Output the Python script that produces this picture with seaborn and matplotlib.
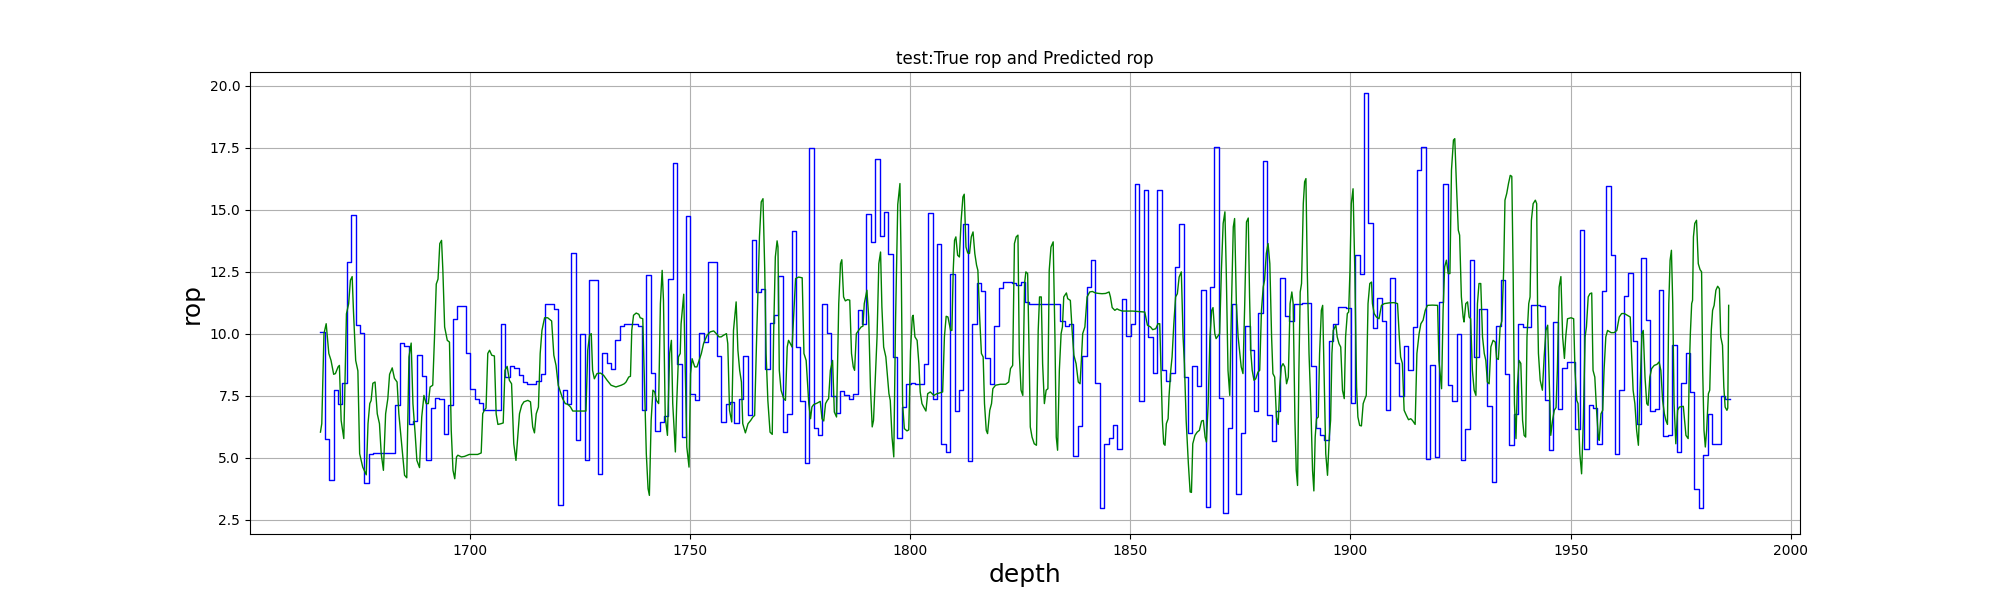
import numpy as np
import matplotlib
matplotlib.use('Agg')
import matplotlib.pyplot as plt
import seaborn as sns

# true rop: one value per metre, starting at this depth
true_start = 1666.1
true_rop = [
    10.07, 5.77, 4.09, 7.74, 7.18, 8.0, 12.89, 14.77, 10.36, 10.03,
    3.98, 5.16, 5.19, 5.19, 5.19, 5.19, 5.19, 7.11, 9.62, 9.52,
    6.37, 6.47, 9.13, 8.31, 4.89, 7.02, 7.42, 7.37, 5.94, 7.11,
    10.6, 11.13, 11.13, 9.22, 7.78, 7.38, 7.22, 6.91, 6.91, 6.91,
    6.91, 10.38, 8.25, 8.68, 8.63, 8.32, 8.05, 7.98, 7.98, 8.08,
    8.36, 11.2, 11.2, 11.0, 3.1, 7.74, 7.15, 13.27, 5.7, 9.97,
    4.89, 12.15, 12.15, 4.35, 9.22, 8.83, 8.59, 9.76, 10.3, 10.38,
    10.38, 10.38, 10.32, 6.91, 12.35, 8.41, 6.08, 6.44, 6.67, 12.2,
    16.88, 8.79, 5.85, 14.74, 7.58, 7.34, 10.03, 9.67, 12.89, 12.89,
    9.08, 6.44, 7.18, 7.24, 6.4, 7.38, 9.08, 6.73, 13.76, 11.67,
    11.81, 8.56, 10.44, 10.74, 12.31, 6.03, 6.77, 14.14, 9.47, 7.27,
    4.78, 17.49, 6.21, 5.93, 11.18, 10.03, 7.47, 6.81, 7.67, 7.51,
    7.38, 7.58, 10.97, 10.4, 14.84, 13.7, 17.02, 13.94, 14.9, 13.23,
    9.06, 5.79, 7.04, 7.98, 8.01, 7.96, 7.96, 8.79, 14.88, 7.38,
    13.63, 5.54, 5.23, 12.42, 6.88, 7.74, 14.41, 4.87, 10.4, 12.04,
    11.72, 9.03, 7.96, 10.3, 11.85, 12.1, 12.1, 12.04, 11.95, 12.08,
    11.28, 11.21, 11.21, 11.21, 11.21, 11.21, 11.21, 11.21, 10.51, 10.3,
    10.38, 5.05, 6.26, 9.1, 11.88, 12.98, 8.01, 2.97, 5.54, 5.79,
    6.3, 5.35, 11.41, 9.91, 10.38, 16.05, 7.27, 15.78, 9.87, 8.41,
    15.78, 8.55, 8.08, 8.41, 12.69, 14.41, 8.25, 6.0, 8.7, 7.88,
    11.77, 3.01, 11.88, 17.53, 7.4, 2.77, 6.21, 11.18, 3.55, 6.0,
    10.3, 9.35, 6.88, 10.83, 16.96, 6.71, 5.67, 6.88, 12.24, 10.7,
    10.51, 11.21, 11.21, 11.24, 11.24, 8.7, 6.21, 5.93, 5.73, 9.7,
    10.38, 11.08, 11.08, 11.04, 7.2, 13.16, 12.39, 19.7, 14.46, 10.24,
    11.45, 10.5, 6.94, 12.24, 8.82, 7.47, 9.49, 8.52, 10.27, 16.59,
    17.53, 4.96, 8.74, 5.03, 11.28, 16.02, 7.92, 7.27, 10.0, 4.92,
    6.17, 12.96, 9.06, 10.99, 10.99, 7.07, 4.02, 10.31, 12.18, 8.36,
    5.5, 6.75, 10.38, 10.27, 10.27, 11.17, 11.17, 11.13, 7.34, 5.32,
    10.47, 6.98, 8.62, 8.86, 8.86, 6.17, 14.17, 5.36, 7.11, 7.02,
    5.56, 11.72, 15.97, 13.19, 5.13, 7.74, 11.51, 12.46, 9.69, 6.37,
    13.06, 10.56, 6.88, 6.98, 11.77, 5.86, 5.9, 9.56, 5.23, 8.01,
    9.2, 7.65, 3.73, 2.98, 5.12, 6.77, 5.56, 5.56, 7.49, 7.38,
]

# predicted rop
pred_depth = [
    1666.1, 1666.4, 1666.9, 1667.4, 1668.0, 1668.5, 1669.1, 1669.5, 1670.1, 1670.4,
    1670.8, 1671.4, 1672.0, 1672.5, 1672.9, 1673.3, 1673.6, 1674.1, 1674.6, 1675.0,
    1675.7, 1676.5, 1676.9, 1677.3, 1677.6, 1678.0, 1678.5, 1679.0, 1679.5, 1679.9,
    1680.4, 1680.9, 1681.4, 1681.8, 1682.4, 1682.9, 1683.5, 1683.9, 1684.4, 1685.2,
    1685.7, 1686.2, 1686.7, 1687.1, 1687.6, 1688.0, 1688.6, 1689.1, 1689.6, 1690.1,
    1690.6, 1691.0, 1691.6, 1692.0, 1692.4, 1692.8, 1693.2, 1693.6, 1693.9, 1694.3,
    1694.9, 1695.4, 1695.8, 1696.2, 1696.6, 1697.0, 1697.3, 1698.1, 1698.8, 1699.9,
    1700.3, 1701.8, 1702.6, 1702.95, 1703.3, 1703.7, 1704.1, 1704.5, 1705.0, 1705.6,
    1706.0, 1706.4, 1707.1, 1707.6, 1708.0, 1708.5, 1709.0, 1709.5, 1710.0, 1710.5,
    1710.9, 1711.3, 1711.8, 1712.3, 1713.2, 1713.8, 1714.3, 1714.7, 1715.1, 1715.6,
    1716.0, 1716.4, 1717.0, 1717.7, 1718.6, 1719.1, 1719.6, 1720.1, 1720.6, 1721.1,
    1721.7, 1722.3, 1722.9, 1723.4, 1724.1, 1725.3, 1726.4, 1726.8, 1727.2, 1727.6,
    1727.9, 1728.3, 1728.9, 1729.7, 1730.4, 1731.2, 1732.1, 1733.2, 1734.4, 1735.1,
    1735.5, 1736.1, 1736.5, 1736.8, 1737.2, 1737.8, 1738.4, 1738.7, 1739.3, 1739.7,
    1740.1, 1740.5, 1740.8, 1741.2, 1741.6, 1742.0, 1742.4, 1742.9, 1743.3, 1743.7,
    1744.0, 1744.4, 1744.9, 1745.4, 1745.8, 1746.1, 1746.7, 1747.0, 1747.4, 1747.8,
    1748.0, 1748.6, 1748.9, 1749.3, 1749.8, 1750.15, 1750.5, 1751.1, 1751.6, 1752.0,
    1752.6, 1753.1, 1753.9, 1754.6, 1755.4, 1756.0, 1756.6, 1757.1, 1757.6, 1758.3,
    1758.6, 1759.0, 1759.5, 1759.9, 1760.5, 1760.9, 1761.3, 1761.7, 1762.0, 1762.6,
    1763.2, 1763.8, 1764.3, 1764.7, 1765.1, 1765.4, 1765.8, 1766.2, 1766.6, 1767.0,
    1767.3, 1767.7, 1768.2, 1768.7, 1769.0, 1769.4, 1769.8, 1770.0, 1770.3, 1770.7,
    1771.3, 1771.7, 1772.1, 1772.4, 1772.8, 1773.2, 1774.0, 1774.7, 1775.5, 1775.9,
    1776.4, 1777.0, 1777.4, 1777.7, 1778.1, 1778.9, 1779.6, 1780.0, 1780.4, 1780.8,
    1781.2, 1781.5, 1781.9, 1782.4, 1782.8, 1783.3, 1783.8, 1784.2, 1784.5, 1784.9,
    1785.3, 1785.8, 1786.3, 1786.7, 1787.1, 1787.4, 1787.8, 1788.3, 1788.9, 1789.3,
    1789.6, 1790.2, 1790.6, 1791.0, 1791.4, 1791.7, 1792.5, 1792.9, 1793.3, 1793.6,
    1794.0, 1794.5, 1795.2, 1795.5, 1795.9, 1796.3, 1796.7, 1797.2, 1797.7, 1798.0,
    1798.3, 1798.7, 1799.3, 1799.7, 1800.1, 1800.5, 1800.7, 1801.1, 1801.6, 1802.0,
    1802.3, 1802.7, 1803.1, 1803.6, 1804.0, 1804.6, 1805.4,
    1806.1, 1806.9, 1807.4, 1807.8, 1808.2, 1808.6, 1809.2, 1809.5, 1809.8, 1810.1,
    1810.4, 1810.8, 1811.2, 1811.6, 1812.0, 1812.3, 1812.7, 1813.1, 1813.5, 1813.9,
    1814.3, 1814.7, 1815.1, 1815.4, 1815.8, 1816.2, 1816.6, 1816.9, 1817.3, 1817.6,
    1818.1, 1818.5, 1818.8, 1819.4, 1820.5, 1821.7, 1822.4, 1822.8, 1823.3, 1823.7,
    1824.1, 1824.5, 1824.8, 1825.2, 1825.6, 1826.0, 1826.3, 1826.7, 1827.1, 1827.3,
    1827.7, 1828.2, 1828.7, 1829.1, 1829.4, 1829.8, 1830.1, 1830.5, 1830.9, 1831.3,
    1831.6, 1832.0, 1832.5, 1832.9, 1833.2, 1833.5, 1833.9, 1834.3,
    1834.6, 1834.9, 1835.5, 1835.8, 1836.4, 1836.8, 1837.2, 1837.7, 1838.2, 1838.6,
    1838.9, 1839.2, 1839.7, 1840.2, 1840.8, 1841.4, 1842.1, 1842.9, 1843.6, 1844.4,
    1845.2, 1845.5, 1845.9, 1846.5, 1847.0, 1847.4, 1848.2, 1849.3, 1850.5, 1852.0,
    1853.3, 1853.9, 1854.6, 1855.1, 1855.8, 1856.3, 1856.7, 1857.0, 1857.3, 1857.6,
    1857.9, 1858.2, 1858.6, 1858.8, 1859.2, 1859.5, 1859.9, 1860.3, 1860.7, 1861.1,
    1861.6, 1862.0, 1862.3, 1862.7, 1863.2, 1863.6, 1863.9, 1864.2, 1864.7, 1865.2,
    1865.7, 1866.2, 1866.6, 1867.0, 1867.3, 1867.7, 1868.1, 1868.5, 1868.8, 1869.2,
    1869.5,
    1870.3, 1870.7, 1871.1, 1871.5, 1871.8, 1872.2, 1872.6, 1873.0, 1873.4, 1873.7,
    1874.1, 1874.5, 1874.9, 1875.2, 1875.6, 1876.0, 1876.4, 1876.8, 1877.1, 1877.4,
    1877.7, 1878.1, 1878.5, 1879.0, 1879.4, 1879.8, 1880.2, 1880.5, 1880.9, 1881.3,
    1881.7, 1882.1, 1882.4, 1882.8, 1883.2, 1883.6, 1883.95, 1884.3, 1884.7, 1885.1,
    1885.5, 1885.9, 1886.3, 1886.7, 1887.0, 1887.4, 1887.7, 1888.0, 1888.3, 1888.6,
    1888.9, 1889.3, 1889.6, 1889.9, 1890.2, 1890.6, 1891.0, 1891.4, 1891.7, 1892.0,
    1892.3, 1892.7, 1893.0, 1893.4, 1893.7, 1894.0, 1894.4, 1894.8, 1895.2, 1895.5,
    1895.8, 1896.1, 1896.7, 1897.0, 1897.4, 1897.8, 1898.2, 1898.6, 1898.9, 1899.3,
    1899.6, 1899.9, 1900.2, 1900.6, 1901.0, 1901.4, 1901.7, 1902.1, 1902.5, 1902.9,
    1903.3, 1903.6, 1904.0, 1904.4, 1904.8,
    1905.0, 1905.4, 1905.9, 1906.5, 1907.05, 1907.7, 1908.8, 1909.9, 1910.7, 1911.1,
    1911.4, 1911.8, 1912.2, 1912.7, 1913.2, 1913.7, 1914.1, 1914.7, 1915.1, 1915.6,
    1916.0, 1916.5, 1917.0, 1917.5, 1918.6, 1919.8, 1920.1, 1920.7, 1921.05, 1921.4,
    1921.8, 1922.2, 1922.6, 1922.95, 1923.4, 1923.7, 1924.1, 1924.5, 1924.8, 1925.2,
    1925.6, 1925.8, 1926.2, 1926.6, 1926.96, 1927.3, 1927.7, 1928.1, 1928.5, 1928.85,
    1929.2, 1929.6, 1930.0, 1930.4, 1930.75, 1931.1, 1931.5, 1931.9, 1932.4, 1932.9,
    1933.2, 1933.6, 1934.0, 1934.4, 1934.8, 1935.1, 1935.5, 1935.9, 1936.3, 1936.65,
    1936.95, 1937.25, 1937.6, 1937.9, 1938.3, 1938.7, 1939.1, 1939.45, 1939.8, 1940.1,
    1940.5, 1940.8, 1941.1, 1941.5, 1942.0, 1942.3, 1942.5, 1942.7, 1943.1, 1943.6,
    1944.0, 1944.4, 1944.8, 1945.2, 1945.5, 1945.9, 1946.3, 1946.7, 1947.0, 1947.4,
    1947.8, 1948.2, 1948.6, 1948.9, 1949.3, 1950.1, 1950.7, 1951.0, 1951.4, 1951.7,
    1952.1, 1952.5, 1952.9, 1953.3, 1953.6, 1954.0, 1954.4, 1954.8, 1955.1, 1955.5,
    1955.9, 1956.3, 1956.5, 1956.9, 1957.3, 1957.6, 1958.0, 1958.4, 1959.2, 1959.9,
    1960.5, 1961.05, 1961.6, 1962.2, 1962.9, 1963.55, 1963.85, 1964.2, 1964.6, 1965.0,
    1965.4, 1965.8, 1966.2, 1966.5, 1966.9, 1967.3, 1967.6, 1968.0, 1968.4, 1969.0,
    1969.6, 1970.1, 1970.5, 1970.9, 1971.3, 1971.65, 1972.0, 1972.3, 1972.6, 1972.9,
    1973.2, 1973.5, 1973.9, 1974.3, 1974.7, 1975.4,
    1975.6, 1975.9, 1976.2, 1976.7, 1976.95, 1977.2, 1977.5, 1977.7, 1977.9, 1978.2,
    1978.6, 1979.0, 1979.4, 1979.75, 1980.0, 1980.3, 1980.6, 1980.9, 1981.3, 1981.6,
    1981.95, 1982.25, 1982.6, 1983.0, 1983.4, 1983.8, 1984.1, 1984.5, 1984.8, 1985.1,
    1985.5, 1985.7, 1985.9,
]
pred_rop = [
    6.03, 6.37, 10.0, 10.4, 9.2, 8.92, 8.36, 8.39, 8.66, 8.72,
    6.5, 5.77, 10.8, 11.2, 12.15, 12.3, 10.9, 8.92, 8.5, 5.16,
    4.62, 4.31, 6.37, 7.18, 7.3, 8.0, 8.05, 6.77, 6.37, 5.16,
    4.49, 6.77, 7.38, 8.36, 8.62, 8.2, 8.05, 6.77, 5.83, 4.29,
    4.19, 9.06, 9.62, 7.18, 5.97, 4.89, 4.6, 6.64, 7.51, 7.18,
    7.18, 7.85, 7.92, 9.86, 12.0, 12.2, 13.63, 13.76, 12.55, 10.27,
    9.73, 9.66, 6.1, 4.49, 4.15, 5.03, 5.1, 5.03, 5.05, 5.13,
    5.13, 5.13, 5.19, 6.77, 6.91, 7.0, 9.2, 9.33, 9.13, 9.1,
    6.77, 6.34, 6.37, 6.4, 8.52, 8.68, 8.12, 7.98, 5.56, 4.89,
    5.83, 6.77, 7.11, 7.25, 7.31, 7.25, 6.24, 6.0, 6.77, 7.04,
    9.2, 10.13, 10.64, 10.64, 10.51, 9.13, 8.72, 7.92, 7.65, 7.38,
    7.18, 7.15, 7.04, 6.88, 6.88, 6.88, 6.88, 9.33, 9.93, 10.0,
    8.52, 8.18, 8.39, 8.41, 8.32, 8.12, 7.92, 7.85, 7.92, 7.98,
    8.05, 8.25, 8.28, 10.13, 10.74, 10.83, 10.78, 10.64, 10.6, 7.85,
    5.16, 3.75, 3.48, 6.5, 7.72, 7.65, 7.31, 7.18, 11.21, 12.55,
    11.34, 6.64, 5.9, 9.2, 9.73, 7.18, 5.23, 7.18, 9.06, 9.2,
    10.4, 11.59, 8.92, 5.43, 4.62, 8.38, 8.99, 8.66, 8.66, 8.87,
    9.2, 9.6, 9.93, 10.07, 10.11, 10.0, 9.87, 9.87, 9.93, 10.0,
    9.6, 6.91, 6.44, 10.13, 11.28, 9.33, 8.52, 8.05, 6.37, 6.0,
    6.37, 6.5, 6.64, 6.7, 9.46, 11.34, 13.9, 15.31, 15.44, 12.55,
    9.2, 7.31, 6.03, 5.94, 9.87, 13.09, 13.74, 13.5, 8.52, 7.72,
    7.38, 7.31, 9.46, 9.73, 9.6, 9.46, 12.22, 12.28, 12.25, 9.2,
    8.92, 7.18, 6.57, 7.04, 7.14, 7.2, 7.27, 6.57, 6.48, 7.18,
    7.31, 7.38, 8.52, 8.92, 6.84, 6.64, 11.21, 12.82, 12.98, 11.48,
    11.32, 11.37, 11.35, 9.2, 8.66, 8.52, 10.0, 10.13, 10.27, 10.3,
    11.21, 11.75, 10.67, 7.85, 6.24, 6.5, 9.87, 12.82, 13.29, 11.08,
    9.46, 9.06, 7.58, 7.31, 5.83, 5.03, 10.5, 15.2, 16.05, 12.55,
    7.18, 6.17, 6.08, 6.12, 9.3, 10.67, 10.74, 9.87, 9.73, 8.79,
    7.65, 7.18, 7.04, 6.88, 7.58, 7.65, 7.51,
    7.58, 7.62, 7.65, 9.87, 10.7, 10.67, 10.13, 10.13, 12.55, 13.76,
    13.9, 13.16, 13.09, 14.57, 15.51, 15.62, 13.49, 13.25, 13.23, 13.9,
    14.1, 13.23, 12.76, 12.55, 10.67, 9.2, 9.06, 7.18, 6.1, 5.97,
    6.91, 7.18, 7.78, 7.92, 7.96, 7.96, 8.05, 8.59, 8.72, 13.63,
    13.9, 13.97, 9.2, 7.72, 7.51, 12.02, 12.49, 12.42, 8.52, 6.24,
    5.83, 5.56, 5.5, 10.13, 11.48, 11.48, 8.79, 7.18, 7.72, 7.78,
    12.55, 13.49, 13.7, 9.87, 5.83, 5.3, 8.52, 10.0,
    10.27, 11.48, 11.64, 11.41, 11.34, 10.13, 9.13, 8.79, 8.05, 7.98,
    8.92, 10.0, 10.27, 11.48, 11.68, 11.7, 11.64, 11.62, 11.61, 11.62,
    11.68, 11.48, 11.05, 10.94, 11.0, 10.96, 10.91, 10.91, 10.91, 10.89,
    10.87, 10.34, 10.27, 10.16, 10.2, 10.4, 10.4, 8.52, 6.5, 5.56,
    5.5, 6.37, 6.57, 7.45, 8.52, 9.06, 10.4, 11.48, 11.61, 12.28,
    12.49, 9.87, 8.79, 6.5, 4.76, 3.62, 3.6, 5.56, 5.9, 6.03,
    6.1, 6.48, 6.5, 5.83, 5.63, 7.18, 9.87, 10.94, 11.05, 10.0,
    9.8,
    10.0, 12.55, 14.44, 14.91, 12.55, 8.52, 7.51, 11.21, 14.3, 14.64,
    11.21, 9.87, 9.2, 8.66, 8.39, 11.21, 14.5, 14.66, 11.48, 9.2,
    8.52, 8.12, 8.18, 8.45, 8.52, 10.94, 11.88, 12.15, 13.23, 13.63,
    12.82, 9.87, 8.39, 8.25, 6.64, 6.34, 7.85, 8.66, 8.79, 8.66,
    7.98, 8.25, 11.21, 11.68, 11.21, 6.5, 4.49, 3.88, 8.52, 11.68,
    12.02, 15.24, 16.12, 16.25, 12.55, 9.2, 7.18, 4.49, 3.66, 5.83,
    6.57, 6.64, 9.2, 10.94, 11.14, 8.52, 5.16, 4.29, 5.83, 6.5,
    9.2, 10.13, 10.34, 9.87, 9.6, 9.46, 7.72, 7.38, 9.87, 10.81,
    10.87, 12.55, 15.24, 15.84, 12.55, 7.85, 6.64, 6.3, 6.28, 7.18,
    7.38, 7.51, 11.21, 12.02, 12.08,
    11.21, 10.81, 10.67, 10.6, 11.14, 11.21, 11.24, 11.25, 11.21, 9.87,
    9.06, 8.8, 6.91, 6.71, 6.53, 6.57, 6.5, 6.34, 9.2, 10.0,
    10.4, 10.54, 10.94, 11.14, 11.15, 11.14, 8.92, 7.78, 10.94, 12.69,
    12.96, 12.42, 12.42, 16.59, 17.8, 17.86, 15.91, 14.17, 13.97, 11.48,
    10.67, 10.47, 11.21, 11.28, 10.67, 10.6, 8.52, 7.72, 7.51, 11.21,
    12.02, 12.02, 9.87, 9.2, 8.92, 8.05, 7.98, 9.47, 9.73, 9.66,
    9.0, 8.96, 10.27, 10.51, 12.55, 15.38, 15.65, 16.05, 16.38, 16.34,
    12.55, 7.18, 5.77, 7.85, 8.92, 8.8, 6.5, 5.9, 5.83, 9.87,
    11.21, 11.48, 14.57, 15.24, 15.38, 15.24, 11.21, 9.2, 8.12, 7.72,
    9.06, 10.13, 10.34, 7.72, 5.9, 6.5, 6.91, 7.02, 8.52, 11.88,
    12.3, 9.87, 9.0, 9.87, 10.6, 10.64, 10.6, 8.52, 7.31, 7.18,
    5.16, 4.35, 6.5, 9.87, 10.27, 11.48, 11.61, 11.64, 8.52, 8.25,
    6.91, 5.83, 5.7, 6.77, 6.91, 8.52, 9.87, 10.13, 10.04, 10.04,
    10.13, 10.67, 10.81, 10.81, 10.74, 10.67, 9.2, 7.72, 7.18, 6.1,
    5.5, 7.85, 10.0, 10.13, 8.25, 7.18, 7.11, 8.25, 8.59, 8.72,
    8.76, 8.86, 8.52, 7.31, 6.77, 6.5, 6.34, 11.21, 12.96, 13.36,
    11.21, 7.18, 5.56, 6.91, 7.04, 7.06,
    7.07, 6.5, 5.9, 5.77, 8.52, 10.0, 11.21, 11.34, 13.9, 14.44,
    14.57, 12.82, 12.58, 12.49, 8.52, 6.1, 5.43, 6.1, 7.58, 7.72,
    10.13, 10.94, 11.14, 11.75, 11.91, 11.81, 9.87, 9.53, 7.85, 7.04,
    6.91, 7.0, 11.14,
]

# step edges of the true curve (last value held to the end)
true_depth = true_start + np.arange(len(true_rop) + 1)
true_vals = true_rop + [true_rop[-1]]

fig, ax = plt.subplots(figsize=(20, 6))
sns.lineplot(x=true_depth, y=true_vals, color='b', linewidth=1,
             drawstyle='steps-post', estimator=None, sort=False, ax=ax)
sns.lineplot(x=pred_depth, y=pred_rop, color='g', linewidth=1,
             estimator=None, sort=False, ax=ax)

ax.set_title('test:True rop and Predicted rop')
ax.set_xlabel('depth', fontsize=18)
ax.set_ylabel('rop', fontsize=18)
ax.grid(True)

fig.savefig('out.png', dpi=100)
